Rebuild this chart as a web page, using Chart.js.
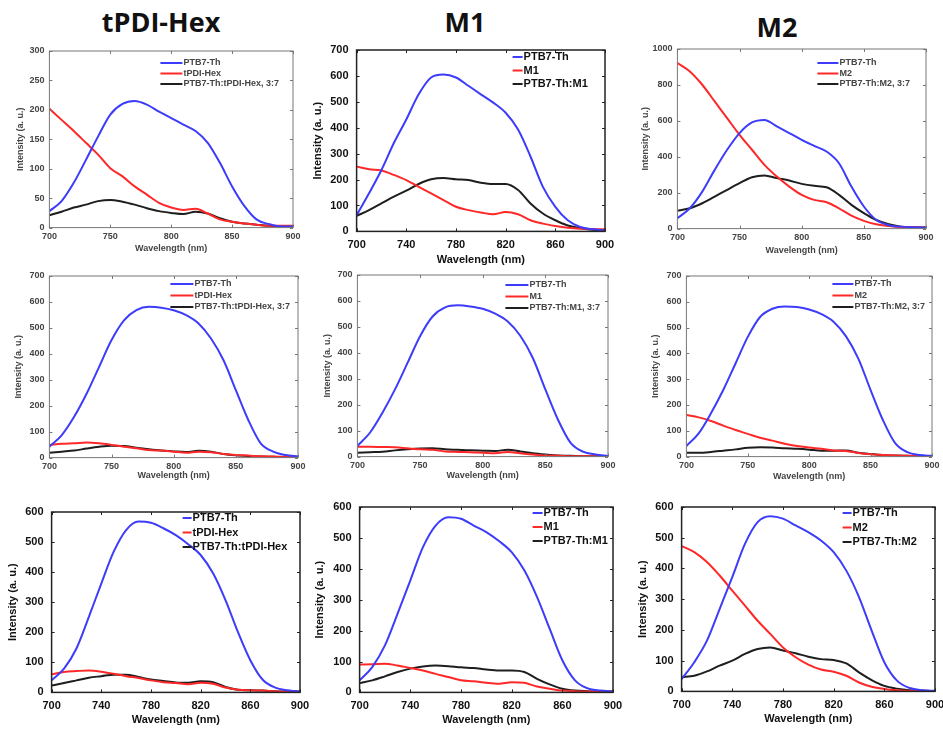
<!DOCTYPE html>
<html>
<head>
<meta charset="utf-8">
<script src="https://cdn.jsdelivr.net/npm/chart.js@4.4.0/dist/chart.umd.min.js"></script>
<style>
  body { margin: 0; background: #fff; width: 943px; height: 729px; position: relative; overflow: hidden; }
  .col-title { position: absolute; font-family: "Open Sans"; font-weight: bold; font-size: 27px; color: #111; transform: translateX(-50%); line-height: 1; }
  canvas { position: absolute; }
</style>
</head>
<body>
<div class="col-title" style="left:161px;top:8px">tPDI-Hex</div>
<div class="col-title" style="left:465px;top:8px">M1</div>
<div class="col-title" style="left:777px;top:13px">M2</div>

<script>
// wavelength grid (nm)
const wavelengths = [700, 710, 720, 730, 740, 750, 760, 770, 780, 790, 800, 810, 820, 830, 840, 850, 860, 870, 880, 890, 900];

// legend labels
const hexLabels37 = ['PTB7-Th', 'tPDI-Hex', 'PTB7-Th:tPDI-Hex, 3:7'];
const m1Labels = ['PTB7-Th', 'M1', 'PTB7-Th:M1'];
const m2Labels37 = ['PTB7-Th', 'M2', 'PTB7-Th:M2, 3:7'];
const m1Labels37 = ['PTB7-Th', 'M1', 'PTB7-Th:M1, 3:7'];
const hexLabels = ['PTB7-Th', 'tPDI-Hex', 'PTB7-Th:tPDI-Hex'];
const m2Labels = ['PTB7-Th', 'M2', 'PTB7-Th:M2'];

// row 1
const r1HexPtb = [28, 45, 76, 115, 155, 192, 210, 215, 209, 197, 186, 175, 164, 144, 110, 70, 37, 14, 6, 2, 2];
const r1HexAcc = [202, 183, 164, 144, 124, 101, 87, 70, 56, 42, 34, 30, 32, 24, 14, 10, 7, 5, 3, 3, 3];
const r1HexBlend = [21, 27, 34, 39, 45, 47, 44, 39, 33, 28, 25, 23, 27, 24, 16, 10, 7, 5, 3, 2, 2];

const r1M1Ptb = [62, 147, 237, 341, 432, 529, 594, 605, 594, 562, 529, 497, 458, 393, 289, 172, 95, 43, 17, 8, 4];
const r1M1Acc = [250, 240, 235, 218, 198, 172, 147, 121, 95, 82, 73, 66, 75, 66, 43, 30, 21, 14, 10, 9, 8];
const r1M1Blend = [60, 82, 108, 134, 157, 183, 201, 206, 201, 198, 188, 183, 183, 160, 108, 69, 43, 23, 13, 6, 4];

const r1M2Ptb = [58, 113, 206, 327, 439, 532, 591, 605, 569, 532, 494, 461, 429, 364, 234, 123, 48, 19, 11, 7, 6];
const r1M2Acc = [922, 875, 801, 708, 615, 522, 439, 355, 290, 234, 188, 160, 147, 113, 72, 43, 24, 15, 9, 7, 6];
const r1M2Blend = [100, 113, 141, 178, 216, 253, 286, 296, 281, 268, 249, 238, 230, 188, 132, 86, 48, 24, 11, 7, 6];

// row 2
const r2HexPtb = [42, 87, 158, 247, 350, 453, 529, 568, 581, 578, 568, 549, 517, 459, 376, 260, 145, 55, 23, 10, 4];
const r2HexAcc = [49, 53, 55, 58, 55, 49, 42, 36, 29, 27, 23, 19, 23, 21, 14, 10, 8, 5, 4, 3, 3];
const r2HexBlend = [19, 23, 27, 35, 42, 46, 45, 38, 32, 27, 24, 22, 26, 23, 14, 9, 6, 4, 3, 1, 1];

const r2M1Ptb = [41, 92, 169, 259, 361, 464, 540, 575, 583, 579, 570, 551, 521, 466, 380, 259, 143, 54, 19, 8, 3];
const r2M1Acc = [38, 38, 37, 36, 32, 28, 26, 20, 18, 17, 15, 13, 18, 13, 8, 4, 3, 1, 1, 1, 1];
const r2M1Blend = [15, 17, 19, 24, 28, 31, 32, 28, 26, 24, 23, 22, 26, 20, 13, 8, 4, 3, 1, 1, 1];

const r2M2Ptb = [41, 90, 168, 258, 361, 464, 541, 573, 582, 580, 570, 552, 522, 466, 380, 258, 142, 52, 17, 6, 3];
const r2M2Acc = [161, 152, 138, 120, 103, 88, 73, 62, 50, 41, 35, 30, 24, 22, 14, 9, 6, 4, 3, 2, 1];
const r2M2Blend = [15, 15, 18, 23, 28, 34, 36, 35, 32, 30, 27, 23, 23, 24, 15, 10, 6, 4, 3, 2, 2];

// row 3
const r3HexPtb = [40, 79, 146, 251, 362, 468, 540, 568, 564, 546, 523, 493, 457, 396, 307, 201, 107, 42, 16, 7, 3];
const r3HexAcc = [60, 68, 71, 73, 69, 62, 54, 48, 40, 34, 31, 27, 32, 29, 16, 9, 7, 6, 4, 3, 3];
const r3HexBlend = [23, 31, 40, 49, 54, 59, 59, 51, 43, 38, 33, 32, 37, 34, 18, 9, 7, 6, 4, 3, 3];

const r3M1Ptb = [39, 82, 152, 255, 362, 470, 540, 567, 562, 540, 519, 490, 454, 395, 309, 206, 104, 39, 13, 6, 3];
const r3M1Acc = [90, 91, 93, 87, 79, 71, 60, 50, 39, 36, 31, 28, 33, 31, 19, 12, 6, 4, 3, 3, 3];
const r3M1Blend = [30, 39, 52, 66, 77, 84, 87, 85, 81, 79, 74, 71, 71, 66, 44, 26, 12, 6, 4, 3, 3];

const r3M2Ptb = [40, 95, 165, 268, 372, 480, 551, 570, 562, 540, 518, 491, 453, 393, 307, 198, 95, 35, 11, 4, 2];
const r3M2Acc = [473, 453, 421, 377, 328, 279, 230, 187, 143, 111, 87, 71, 64, 51, 29, 15, 8, 4, 2, 2, 1];
const r3M2Blend = [46, 51, 65, 84, 100, 122, 138, 143, 133, 124, 113, 105, 102, 91, 62, 37, 18, 9, 4, 2, 1];

const BLUE = 'rgb(60, 60, 250)';
const RED = 'rgb(255, 40, 40)';
const BLACK = 'rgb(30, 30, 30)';

const styles = {
  small: { size: 9, color: '#444', frame: '#777', frameWidth: 1, xPad: 4, yPad: 5, lineWidth: 2 },
  bold: { size: 11, color: '#111', frame: '#222', frameWidth: 1.5, xPad: 7, yPad: 8, lineWidth: 2 }
};

const panels = [
  { box: [49, 51, 293, 228], yTitleX: 20, xTitleY: 249, yMax: 300, yStep: 50, xStep: 50, style: 'small',
    labels: hexLabels37, series: [r1HexPtb, r1HexAcc, r1HexBlend], legend: { x: 111, y: 12, gap: 10.5, len: 22 } },
  { box: [357, 50, 605, 231], yTitleX: 318, xTitleY: 260, yMax: 700, yStep: 100, xStep: 40, style: 'bold',
    labels: m1Labels, series: [r1M1Ptb, r1M1Acc, r1M1Blend], legend: { x: 156, y: 7, gap: 13.5, len: 10 } },
  { box: [677, 49, 926, 229], yTitleX: 645, xTitleY: 251, yMax: 1000, yStep: 200, xStep: 50, style: 'small',
    labels: m2Labels37, series: [r1M2Ptb, r1M2Acc, r1M2Blend], legend: { x: 140, y: 14, gap: 10.5, len: 21 } },
  { box: [49, 276, 298, 458], yTitleX: 18, xTitleY: 476, yMax: 700, yStep: 100, xStep: 50, style: 'small',
    labels: hexLabels37, series: [r2HexPtb, r2HexAcc, r2HexBlend], legend: { x: 121, y: 8, gap: 11.5, len: 23 } },
  { box: [357, 275, 608, 457], yTitleX: 327, xTitleY: 476, yMax: 700, yStep: 100, xStep: 50, style: 'small',
    labels: m1Labels37, series: [r2M1Ptb, r2M1Acc, r2M1Blend], legend: { x: 148, y: 10, gap: 11.5, len: 23 } },
  { box: [686, 276, 932, 457], yTitleX: 655, xTitleY: 477, yMax: 700, yStep: 100, xStep: 50, style: 'small',
    labels: m2Labels37, series: [r2M2Ptb, r2M2Acc, r2M2Blend], legend: { x: 146, y: 8, gap: 11.5, len: 21 } },
  { box: [52, 512, 300, 692], yTitleX: 13, xTitleY: 720, yMax: 600, yStep: 100, xStep: 40, style: 'bold',
    labels: hexLabels, series: [r3HexPtb, r3HexAcc, r3HexBlend], legend: { x: 131, y: 6, gap: 14.5, len: 9 } },
  { box: [360, 507, 613, 692], yTitleX: 320, xTitleY: 720, yMax: 600, yStep: 100, xStep: 40, style: 'bold',
    labels: m1Labels, series: [r3M1Ptb, r3M1Acc, r3M1Blend], legend: { x: 173, y: 6, gap: 14, len: 10 } },
  { box: [682, 507, 935, 691], yTitleX: 643, xTitleY: 719, yMax: 600, yStep: 100, xStep: 40, style: 'bold',
    labels: m2Labels, series: [r3M2Ptb, r3M2Acc, r3M2Blend], legend: { x: 161, y: 6, gap: 14.5, len: 9 } }
];

// frame, inward ticks and legend inside the plot
const framePlugin = {
  id: 'frame',
  afterDraw(chart, args, opts) {
    const { ctx, chartArea: a, scales } = chart;
    const st = opts.st;
    ctx.save();
    ctx.strokeStyle = st.frame;
    ctx.lineWidth = st.frameWidth;
    ctx.strokeRect(a.left, a.top, a.right - a.left, a.bottom - a.top);
    ctx.lineWidth = 1;
    ctx.beginPath();
    scales.x.ticks.forEach(t => {
      const px = Math.round(scales.x.getPixelForValue(t.value)) + 0.5;
      ctx.moveTo(px, a.bottom); ctx.lineTo(px, a.bottom - 3);
      ctx.moveTo(px, a.top); ctx.lineTo(px, a.top + 3);
    });
    scales.y.ticks.forEach(t => {
      const py = Math.round(scales.y.getPixelForValue(t.value)) + 0.5;
      ctx.moveTo(a.left, py); ctx.lineTo(a.left + 3, py);
      ctx.moveTo(a.right, py); ctx.lineTo(a.right - 3, py);
    });
    ctx.stroke();

    const lg = opts.legend;
    ctx.font = 'bold ' + st.size + 'px "Liberation Sans", Arial, sans-serif';
    ctx.textBaseline = 'middle';
    chart.data.datasets.forEach((ds, i) => {
      const y = a.top + lg.y + i * lg.gap;
      const x = a.left + lg.x;
      ctx.strokeStyle = ds.borderColor;
      ctx.lineWidth = 2;
      ctx.beginPath();
      ctx.moveTo(x, y); ctx.lineTo(x + lg.len, y);
      ctx.stroke();
      ctx.fillStyle = st.color;
      ctx.fillText(ds.label, x + lg.len + 1, y);
    });
    ctx.restore();
  }
};

panels.forEach(p => {
  const st = styles[p.style];
  const [L, T, R, B] = p.box;
  const lh = st.size * 1.2;
  const yW = L - p.yTitleX + lh / 2;
  const xH = p.xTitleY - B + lh / 2;
  const padT = 10, padR = 16, padB = 4;
  const canvas = document.createElement('canvas');
  const w = Math.round(R - L + yW + padR);
  const h = Math.round(B - T + padT + xH + padB);
  canvas.width = w; canvas.height = h;
  canvas.style.width = w + 'px'; canvas.style.height = h + 'px';
  canvas.style.left = (L - yW) + 'px';
  canvas.style.top = (T - padT) + 'px';
  document.body.appendChild(canvas);

  const font = { family: '"Liberation Sans", Arial, sans-serif', size: st.size, weight: 'bold' };
  const colors = [BLUE, RED, BLACK];

  new Chart(canvas.getContext('2d'), {
    type: 'line',
    data: {
      datasets: p.series.map((vals, i) => ({
        label: p.labels[i],
        data: wavelengths.map((x, k) => ({ x: x, y: vals[k] })),
        borderColor: colors[i],
        borderWidth: st.lineWidth,
        pointRadius: 0,
        cubicInterpolationMode: 'monotone',
        fill: false
      }))
    },
    options: {
      responsive: false,
      animation: false,
      events: [],
      layout: { padding: { top: padT, right: padR, bottom: padB, left: 0 } },
      plugins: {
        legend: { display: false },
        tooltip: { enabled: false },
        frame: { st: st, legend: p.legend }
      },
      scales: {
        x: {
          type: 'linear', min: 700, max: 900,
          grid: { display: false, drawTicks: false },
          border: { display: false },
          ticks: { stepSize: p.xStep, font: font, color: st.color, padding: st.xPad, maxRotation: 0, callback: v => String(v) },
          title: { display: true, text: 'Wavelength (nm)', font: font, color: st.color, padding: { top: 0, bottom: 0 } },
          afterFit(s) { s.height = xH; s.paddingLeft = 0; s.paddingRight = 0; }
        },
        y: {
          min: 0, max: p.yMax,
          grid: { display: false, drawTicks: false },
          border: { display: false },
          ticks: { stepSize: p.yStep, font: font, color: st.color, padding: st.yPad, callback: v => String(v) },
          title: { display: true, text: 'Intensity (a. u.)', font: font, color: st.color, padding: { top: 0, bottom: 0 } },
          afterFit(s) { s.width = yW; s.paddingTop = 0; s.paddingBottom = 0; }
        }
      }
    },
    plugins: [framePlugin]
  });
});
</script>
</body>
</html>
